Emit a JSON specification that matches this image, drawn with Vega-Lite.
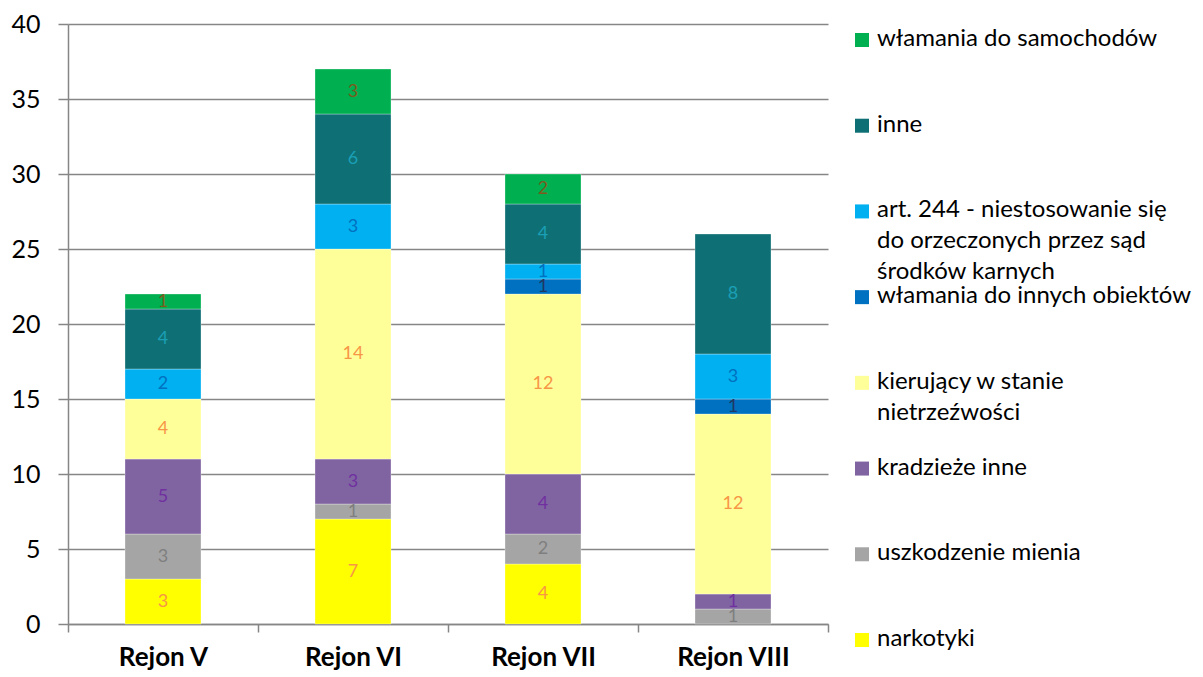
{
  "$schema": "https://vega.github.io/schema/vega-lite/v6.json",
  "padding": {"left": 10, "top": 12, "right": 0, "bottom": 0},
  "background": "white",
  "config": {
    "font": "Lato",
    "view": {"stroke": null},
    "concat": {"spacing": 19}
  },
  "bounds": "flush",
  "hconcat": [
    {
      "width": 760,
      "height": 600,
      "data": {
        "values": [
          {"rejon": "Rejon V", "kategoria": "narkotyki", "wartosc": 3},
          {"rejon": "Rejon V", "kategoria": "uszkodzenie mienia", "wartosc": 3},
          {"rejon": "Rejon V", "kategoria": "kradzieże inne", "wartosc": 5},
          {"rejon": "Rejon V", "kategoria": "kierujący w stanie nietrzeźwości", "wartosc": 4},
          {"rejon": "Rejon V", "kategoria": "art. 244 - niestosowanie się do orzeczonych przez sąd środków karnych", "wartosc": 2},
          {"rejon": "Rejon V", "kategoria": "inne", "wartosc": 4},
          {"rejon": "Rejon V", "kategoria": "włamania do samochodów", "wartosc": 1},
          {"rejon": "Rejon VI", "kategoria": "narkotyki", "wartosc": 7},
          {"rejon": "Rejon VI", "kategoria": "uszkodzenie mienia", "wartosc": 1},
          {"rejon": "Rejon VI", "kategoria": "kradzieże inne", "wartosc": 3},
          {"rejon": "Rejon VI", "kategoria": "kierujący w stanie nietrzeźwości", "wartosc": 14},
          {"rejon": "Rejon VI", "kategoria": "art. 244 - niestosowanie się do orzeczonych przez sąd środków karnych", "wartosc": 3},
          {"rejon": "Rejon VI", "kategoria": "inne", "wartosc": 6},
          {"rejon": "Rejon VI", "kategoria": "włamania do samochodów", "wartosc": 3},
          {"rejon": "Rejon VII", "kategoria": "narkotyki", "wartosc": 4},
          {"rejon": "Rejon VII", "kategoria": "uszkodzenie mienia", "wartosc": 2},
          {"rejon": "Rejon VII", "kategoria": "kradzieże inne", "wartosc": 4},
          {"rejon": "Rejon VII", "kategoria": "kierujący w stanie nietrzeźwości", "wartosc": 12},
          {"rejon": "Rejon VII", "kategoria": "włamania do innych obiektów", "wartosc": 1},
          {"rejon": "Rejon VII", "kategoria": "art. 244 - niestosowanie się do orzeczonych przez sąd środków karnych", "wartosc": 1},
          {"rejon": "Rejon VII", "kategoria": "inne", "wartosc": 4},
          {"rejon": "Rejon VII", "kategoria": "włamania do samochodów", "wartosc": 2},
          {"rejon": "Rejon VIII", "kategoria": "uszkodzenie mienia", "wartosc": 1},
          {"rejon": "Rejon VIII", "kategoria": "kradzieże inne", "wartosc": 1},
          {"rejon": "Rejon VIII", "kategoria": "kierujący w stanie nietrzeźwości", "wartosc": 12},
          {"rejon": "Rejon VIII", "kategoria": "włamania do innych obiektów", "wartosc": 1},
          {"rejon": "Rejon VIII", "kategoria": "art. 244 - niestosowanie się do orzeczonych przez sąd środków karnych", "wartosc": 3},
          {"rejon": "Rejon VIII", "kategoria": "inne", "wartosc": 8}
        ]
      },
      "transform": [
        {"calculate": "indexof(['narkotyki','uszkodzenie mienia','kradzieże inne','kierujący w stanie nietrzeźwości','włamania do innych obiektów','art. 244 - niestosowanie się do orzeczonych przez sąd środków karnych','inne','włamania do samochodów'], datum.kategoria)", "as": "kolejnosc"},
        {"stack": "wartosc", "groupby": ["rejon"], "sort": [{"field": "kolejnosc", "order": "ascending"}], "as": ["v0", "v1"]},
        {"calculate": "(datum.v0 + datum.v1) / 2", "as": "srodek"}
      ],
      "encoding": {
        "x": {
          "field": "rejon", "type": "nominal",
          "sort": ["Rejon V", "Rejon VI", "Rejon VII", "Rejon VIII"],
          "scale": {"paddingInner": 0, "paddingOuter": 0},
          "axis": {
            "title": null, "labelAngle": 0, "labelFontSize": 26, "labelFontWeight": "bold",
            "labelColor": "#000000", "tickBand": "extent", "tickSize": 8, "tickColor": "#868686",
            "tickWidth": 1.5, "domainColor": "#868686", "domainWidth": 1.5, "labelPadding": 12, "grid": false
          }
        }
      },
      "layer": [
        {
          "mark": {"type": "bar", "width": {"band": 0.4}, "stroke": "#ffffff", "strokeWidth": 0.6, "strokeOpacity": 0.5},
          "encoding": {
            "y": {
              "field": "v0", "type": "quantitative",
              "scale": {"domain": [0, 40]},
              "axis": {
                "title": null, "values": [0, 5, 10, 15, 20, 25, 30, 35, 40], "labelFontSize": 25,
                "labelColor": "#000000", "gridColor": "#868686", "gridWidth": 1.5, "tickColor": "#868686",
                "tickWidth": 1.5, "tickSize": 10, "domainColor": "#868686", "domainWidth": 1.5, "labelPadding": 18
              }
            },
            "y2": {"field": "v1"},
            "color": {
              "field": "kategoria", "type": "nominal", "legend": null,
              "scale": {
                "domain": ["narkotyki", "uszkodzenie mienia", "kradzieże inne", "kierujący w stanie nietrzeźwości", "włamania do innych obiektów", "art. 244 - niestosowanie się do orzeczonych przez sąd środków karnych", "inne", "włamania do samochodów"],
                "range": ["#FFFF00", "#A5A5A5", "#8064A2", "#FFFF99", "#0070C0", "#00B0F0", "#0E7075", "#00B050"]
              }
            }
          }
        },
        {
          "mark": {"type": "text", "fontSize": 18, "baseline": "middle", "align": "center"},
          "encoding": {
            "y": {"field": "srodek", "type": "quantitative"},
            "text": {"field": "wartosc", "type": "quantitative"},
            "fill": {
              "field": "kategoria", "type": "nominal", "legend": null,
              "scale": {
                "domain": ["narkotyki", "uszkodzenie mienia", "kradzieże inne", "kierujący w stanie nietrzeźwości", "włamania do innych obiektów", "art. 244 - niestosowanie się do orzeczonych przez sąd środków karnych", "inne", "włamania do samochodów"],
                "range": ["#F79646", "#7F7F7F", "#7030A0", "#F79646", "#1F3864", "#0070C0", "#1B9FB5", "#7A5C1E"]
              }
            }
          }
        }
      ]
    },
    {
      "width": 30,
      "height": 600,
      "data": {
        "values": [
          {"kategoria": "włamania do samochodów", "etykieta": "włamania do samochodów"},
          {"kategoria": "inne", "etykieta": "inne"},
          {"kategoria": "art. 244 - niestosowanie się do orzeczonych przez sąd środków karnych", "etykieta": "art. 244 - niestosowanie się\ndo orzeczonych przez sąd\nśrodków karnych"},
          {"kategoria": "włamania do innych obiektów", "etykieta": "włamania do innych obiektów"},
          {"kategoria": "kierujący w stanie nietrzeźwości", "etykieta": "kierujący w stanie\nnietrzeźwości"},
          {"kategoria": "kradzieże inne", "etykieta": "kradzieże inne"},
          {"kategoria": "uszkodzenie mienia", "etykieta": "uszkodzenie mienia"},
          {"kategoria": "narkotyki", "etykieta": "narkotyki"}
        ]
      },
      "encoding": {
        "y": {
          "field": "kategoria", "type": "nominal", "axis": null,
          "scale": {
            "type": "point",
            "padding": 0,
            "domain": ["włamania do samochodów", "inne", "art. 244 - niestosowanie się do orzeczonych przez sąd środków karnych", "włamania do innych obiektów", "kierujący w stanie nietrzeźwości", "kradzieże inne", "uszkodzenie mienia", "narkotyki"],
            "range": [16, 616]
          }
        }
      },
      "layer": [
        {
          "mark": {"type": "square", "size": 196, "filled": true, "opacity": 1},
          "encoding": {
            "color": {"field": "kategoria", "type": "nominal", "legend": null}
          }
        },
        {
          "mark": {"type": "text", "align": "left", "baseline": "top", "dx": 15, "dy": -13, "fontSize": 24, "lineBreak": "\n", "lineHeight": 31, "color": "#000000"},
          "encoding": {
            "text": {"field": "etykieta", "type": "nominal"}
          }
        }
      ]
    }
  ]
}
